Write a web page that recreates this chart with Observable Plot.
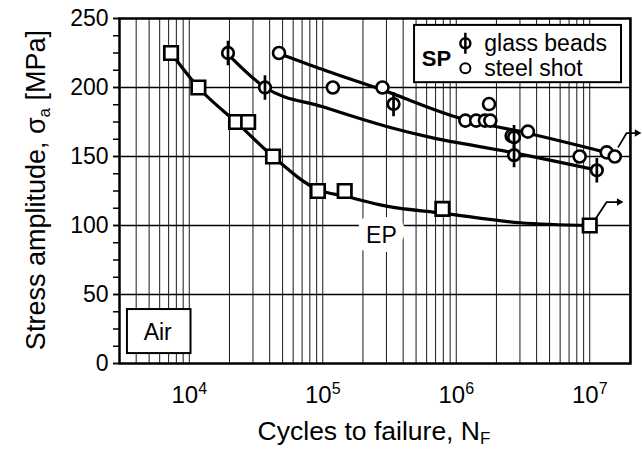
<!DOCTYPE html>
<html>
<head>
<meta charset="utf-8">
<script src="https://cdn.jsdelivr.net/npm/d3@7"></script>
<script src="https://cdn.jsdelivr.net/npm/@observablehq/plot@0.6"></script>
<style>
  html, body { margin: 0; padding: 0; background: #fff; }
  svg text { font-family: "Liberation Sans", Arial, sans-serif; }
</style>
</head>
<body>
<div id="chart"></div>
<script>
// ---------------- data ----------------
// EP (electropolished) – squares
const epN = [7.3e3, 1.17e4, 2.24e4, 2.76e4, 4.24e4, 9.2e4, 1.46e5, 7.87e5, 1.0e7];
const epS = [225, 200, 175, 175, 150, 125, 125, 112, 100];
// EP fit curve
const epFitN = [7.3e3, 1.17e4, 2.3e4, 4.24e4, 9.2e4, 1.5e5, 3.0e5, 7.9e5, 3.0e6, 1.0e7];
const epFitS = [225, 200, 174, 150, 126, 121, 114, 109, 102, 100];

// SP glass beads – circle with vertical bar
const gbN = [1.95e4, 3.69e4, 3.39e5, 2.71e6, 2.71e6, 1.13e7];
const gbS = [225, 200, 188, 164, 151, 140];
const gbFitN = [2.0e4, 3.7e4, 1.0e5, 3.2e5, 6.3e5, 2.6e6, 1.03e7];
const gbFitS = [223, 200, 186, 171, 164, 153, 141];

// SP steel shot – open circles
const ssN = [4.7e4, 1.19e5, 2.8e5, 1.17e6, 1.41e6, 1.64e6, 1.8e6, 1.76e6, 2.6e6, 3.44e6, 8.4e6, 1.34e7, 1.54e7];
const ssS = [225, 200, 200, 176, 176, 176, 176, 188, 165, 168, 150, 153, 150];
const ssFitN = [5.2e4, 1.07e5, 2.66e5, 1.09e6, 3.39e6, 1.32e7];
const ssFitS = [223, 212, 199, 177.5, 167, 153];

// run-out arrows (no failure)
const epRunN = [1.11e7, 1.34e7, 1.66e7];
const epRunS = [105, 117, 117];
const ssRunN = [1.64e7, 1.89e7, 2.26e7];
const ssRunS = [157, 167, 167];

// axes
const xDomain = [3e3, 2.02e7];
const yDomain = [0, 250];
const xTicks = [1e4, 1e5, 1e6, 1e7];
const yTicks = [0, 50, 100, 150, 200, 250];
const yMinorTicks = [0, 12.5, 25, 37.5, 50, 62.5, 75, 87.5, 100, 112.5, 125, 137.5, 150, 162.5, 175, 187.5, 200, 212.5, 225, 237.5, 250];
const yGrid = [50, 100, 150, 200];

// annotation anchors (data coordinates)
const legendBox = {x1: 4.87e5, x2: 1.73e7, y1: 203.5, y2: 245};
const airBox = {x1: 3.44e3, x2: 1.03e4, y1: 7.2, y2: 39.1};

// ---------------- build ----------------
const pts = (N, S) => N.map((n, i) => ({n, s: S[i]}));
const ep = pts(epN, epS), epFit = pts(epFitN, epFitS);
const gb = pts(gbN, gbS), gbFit = pts(gbFitN, gbFitS);
const ss = pts(ssN, ssS), ssFit = pts(ssFitN, ssFitS);
const epRun = pts(epRunN, epRunS), ssRun = pts(ssRunN, ssRunS);
const xGrid = d3.scaleLog().domain(xDomain).ticks();

const phi = {
  draw(ctx, size) {
    const r = Math.sqrt(size / Math.PI);
    ctx.moveTo(r, 0);
    ctx.arc(0, 0, r, 0, 2 * Math.PI);
    ctx.moveTo(0, -2.1 * r);
    ctx.lineTo(0, 2.1 * r);
  }
};

const font = "Liberation Sans, Arial, sans-serif";

const svg = Plot.plot({
  width: 642,
  height: 449,
  marginLeft: 119,
  marginRight: 12,
  marginTop: 18,
  marginBottom: 86,
  style: {fontFamily: font, color: "black", background: "white"},
  x: {type: "log", domain: xDomain},
  y: {domain: yDomain},
  marks: [
    // grid
    Plot.ruleX(xGrid, {stroke: "black", strokeWidth: 1, strokeOpacity: 0.9}),
    Plot.ruleY(yGrid, {stroke: "black", strokeWidth: 1.5}),
    // axes
    Plot.axisY({ticks: yMinorTicks, tickSize: 6, text: null, label: null, strokeWidth: 1.5}),
    Plot.axisY({ticks: yTicks, tickSize: 6, tickPadding: 5, fontSize: 23, label: null, strokeWidth: 1.5}),
    Plot.axisX({ticks: xTicks, tickSize: 0, tickPadding: 22, fontSize: 24, label: null,
      tickFormat: d => "10^" + Math.round(Math.log10(d))}),
    // EP label with white knock-out
    Plot.text(["EP"], {x: 2.75e5, y: 92.5, text: d => d, fontSize: 23, fill: "black",
      stroke: "white", strokeWidth: 18, strokeLinejoin: "round"}),
    // Air box
    Plot.rect([airBox], {x1: "x1", x2: "x2", y1: "y1", y2: "y2", fill: "white", stroke: "black", strokeWidth: 2}),
    Plot.text(["Air"], {x: 5.8e3, y: 22.5, text: d => d, fontSize: 23, fill: "black"}),
    // legend box
    Plot.rect([legendBox], {x1: "x1", x2: "x2", y1: "y1", y2: "y2", fill: "white", stroke: "black", strokeWidth: 2}),
    Plot.text(["SP"], {x: 7.1e5, y: 221, text: d => d, fontSize: 22, fontWeight: "bold", fill: "black"}),
    Plot.dot([0], {x: 1.17e6, y: 232, r: 5, symbol: phi, stroke: "black", strokeWidth: 2.5, fill: "white"}),
    Plot.dot([0], {x: 1.17e6, y: 214, r: 5, stroke: "black", strokeWidth: 2, fill: "white"}),
    Plot.text(["glass beads"], {x: 1.62e6, y: 232, text: d => d, fontSize: 23, textAnchor: "start", fill: "black"}),
    Plot.text(["steel shot"], {x: 1.62e6, y: 214, text: d => d, fontSize: 23, textAnchor: "start", fill: "black"}),
    // frame
    Plot.frame({stroke: "black", strokeWidth: 2.5}),
    // fit curves
    Plot.line(epFit, {x: "n", y: "s", stroke: "black", strokeWidth: 3.2, curve: "monotone-x"}),
    Plot.line(gbFit, {x: "n", y: "s", stroke: "black", strokeWidth: 3.2, curve: "monotone-x"}),
    Plot.line(ssFit, {x: "n", y: "s", stroke: "black", strokeWidth: 3.2, curve: "monotone-x"}),
    // run-out arrows
    Plot.line(epRun, {x: "n", y: "s", stroke: "black", strokeWidth: 1.8}),
    Plot.line(ssRun, {x: "n", y: "s", stroke: "black", strokeWidth: 1.8}),
    Plot.dot([epRun[2], ssRun[2]], {x: "n", y: "s", symbol: "triangle2", rotate: 90, r: 3.6, fill: "black"}),
    // markers
    Plot.dot(ep, {x: "n", y: "s", symbol: "square", r: 7.6, stroke: "black", strokeWidth: 2.7, fill: "white"}),
    Plot.dot(ss, {x: "n", y: "s", r: 6, stroke: "black", strokeWidth: 2.6, fill: "white"}),
    Plot.dot(gb, {x: "n", y: "s", r: 5.8, symbol: phi, stroke: "black", strokeWidth: 2.7, fill: "white"})
  ]
});

const s = d3.select(svg);

// superscript exponents on the x tick labels
s.selectAll('g[aria-label="x-axis tick label"] text').each(function () {
  const t = d3.select(this);
  const [base, exp] = t.text().split("^");
  t.text(null);
  t.append("tspan").text(base);
  t.append("tspan").attr("font-size", 16).attr("dy", -9).text(exp);
});

// axis titles with sub-scripts
const yt = s.append("text")
  .attr("transform", "translate(45,190) rotate(-90)")
  .attr("text-anchor", "middle")
  .attr("font-size", 27)
  .attr("fill", "black");
yt.append("tspan").text("Stress amplitude, \u03c3");
yt.append("tspan").attr("font-size", 17).attr("dy", 5).text("a");
yt.append("tspan").attr("dy", -5).text(" [MPa]");

const xt = s.append("text")
  .attr("x", 374)
  .attr("y", 440)
  .attr("text-anchor", "middle")
  .attr("font-size", 26.5)
  .attr("fill", "black");
xt.append("tspan").text("Cycles to failure, N");
xt.append("tspan").attr("font-size", 17).attr("dy", 4).text("F");

document.getElementById("chart").appendChild(svg);
</script>
</body>
</html>
